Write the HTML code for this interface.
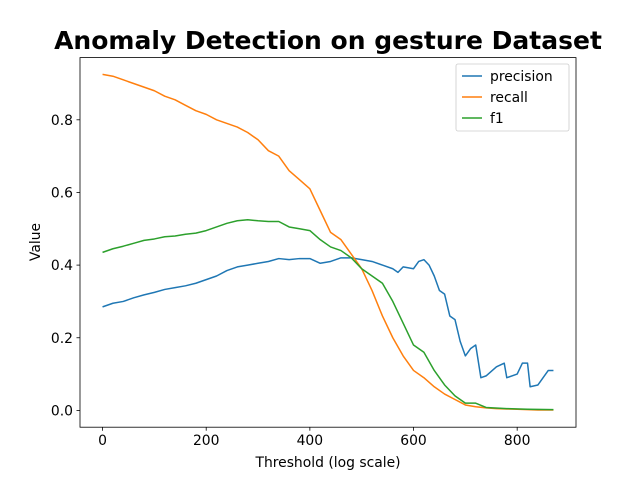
<!DOCTYPE html>
<html><head><meta charset="utf-8"><style>
body{margin:0;background:#fff}
svg text{font-family:"DejaVu Sans","Liberation Sans",sans-serif}
</style></head><body>
<svg width="640" height="480" xmlns="http://www.w3.org/2000/svg">
<rect width="640" height="480" fill="#fff"/>
<text x="328" y="49" text-anchor="middle" font-size="25" font-weight="bold">Anomaly Detection on gesture Dataset</text>
<g id="plot"></g>
<rect x="80" y="57.6" width="496" height="369.6" fill="none" stroke="#000" stroke-width="0.8"/>
<text x="328" y="467" text-anchor="middle" font-size="13.9">Threshold (log scale)</text>
<text transform="translate(40,242) rotate(-90)" text-anchor="middle" font-size="13.9">Value</text>
<g>
<rect x="456" y="64" width="113" height="67" rx="2" fill="#fff" fill-opacity="0.8" stroke="#ccc" stroke-width="0.8"/>
<line x1="462" y1="76" x2="482" y2="76" stroke="#1f77b4" stroke-width="1.5"/>
<text x="490" y="81" font-size="13.9">precision</text>
<line x1="462" y1="97" x2="482" y2="97" stroke="#ff7f0e" stroke-width="1.5"/>
<text x="490" y="102" font-size="13.9">recall</text>
<line x1="462" y1="118" x2="482" y2="118" stroke="#2ca02c" stroke-width="1.5"/>
<text x="490" y="123" font-size="13.9">f1</text>
</g>
</svg>
<script>
const xTicks=[0,200,400,600,800];
const yTicks=[0.0,0.2,0.4,0.6,0.8];
const precX=[0,20,40,60,80,100,120,140,160,180,200,220,240,260,280,300,320,340,360,380,400,420,440,460,480,500,520,540,560,570,580,600,610,620,630,640,650,660,670,680,690,700,710,720,730,740,760,775,780,800,810,820,825,840,850,860,870];
const precY=[0.285,0.295,0.30,0.31,0.318,0.325,0.333,0.338,0.343,0.35,0.36,0.37,0.385,0.395,0.40,0.405,0.41,0.418,0.415,0.418,0.418,0.405,0.41,0.42,0.42,0.415,0.41,0.40,0.39,0.38,0.395,0.39,0.41,0.415,0.40,0.37,0.33,0.32,0.26,0.25,0.19,0.15,0.17,0.18,0.09,0.095,0.12,0.13,0.09,0.10,0.13,0.13,0.065,0.07,0.09,0.11,0.11];
const recX=[0,20,40,60,80,100,120,140,160,180,200,220,240,260,280,300,320,340,360,380,400,420,440,460,480,500,520,540,560,580,600,620,640,660,680,700,720,740,760,780,800,820,840,870];
const recY=[0.925,0.92,0.91,0.90,0.89,0.88,0.865,0.855,0.84,0.825,0.815,0.80,0.79,0.78,0.765,0.745,0.715,0.70,0.66,0.635,0.61,0.55,0.49,0.47,0.43,0.39,0.33,0.26,0.20,0.15,0.11,0.09,0.065,0.045,0.03,0.015,0.01,0.007,0.005,0.004,0.003,0.002,0.001,0.001];
const f1X=[0,20,40,60,80,100,120,140,160,180,200,220,240,260,280,300,320,340,360,380,400,420,440,460,480,500,520,540,560,580,600,620,640,660,680,700,720,740,780,820,870];
const f1Y=[0.435,0.445,0.452,0.46,0.468,0.472,0.478,0.48,0.485,0.488,0.495,0.505,0.515,0.522,0.525,0.522,0.52,0.52,0.505,0.50,0.495,0.47,0.45,0.44,0.42,0.39,0.37,0.35,0.30,0.24,0.18,0.16,0.11,0.07,0.04,0.02,0.02,0.008,0.005,0.003,0.002];
const NS='http://www.w3.org/2000/svg';
const xmin=-43.5,xmax=913.5,ymin=-0.04625,ymax=0.97125;
const L=80,R=576,T=57.6,B=427.2;
function sx(v){return L+(v-xmin)/(xmax-xmin)*(R-L);}
function sy(v){return B-(v-ymin)/(ymax-ymin)*(B-T);}
const g=document.getElementById('plot');
function mk(t,a){const e=document.createElementNS(NS,t);for(const k in a)e.setAttribute(k,a[k]);g.appendChild(e);return e;}
xTicks.forEach(v=>{
 const l=mk('line',{x1:sx(v),x2:sx(v),y1:B,y2:B+3.5,stroke:'#000','stroke-width':0.8});
 
 
 const t=mk('text',{x:sx(v),y:B+18,'text-anchor':'middle','font-size':13.9});
 t.textContent=v;
 
 
});
yTicks.forEach(v=>{
 const l=mk('line',{x1:L-3.5,x2:L,y1:sy(v),y2:sy(v),stroke:'#000','stroke-width':0.8});
 
 
 const t=mk('text',{x:L-7,y:sy(v)+5,'text-anchor':'end','font-size':13.9});
 t.textContent=v.toFixed(1);
 
 
});
function line(xs,ys,c,name){
 const p=mk('polyline',{points:xs.map((x,i)=>sx(x)+','+sy(ys[i])).join(' '),fill:'none',stroke:c,'stroke-width':1.5,'stroke-linejoin':'round'});
 
 
}
line(precX,precY,'#1f77b4','precision-line');
line(recX,recY,'#ff7f0e','recall-line');
line(f1X,f1Y,'#2ca02c','f1-line');
</script>
</body></html>
